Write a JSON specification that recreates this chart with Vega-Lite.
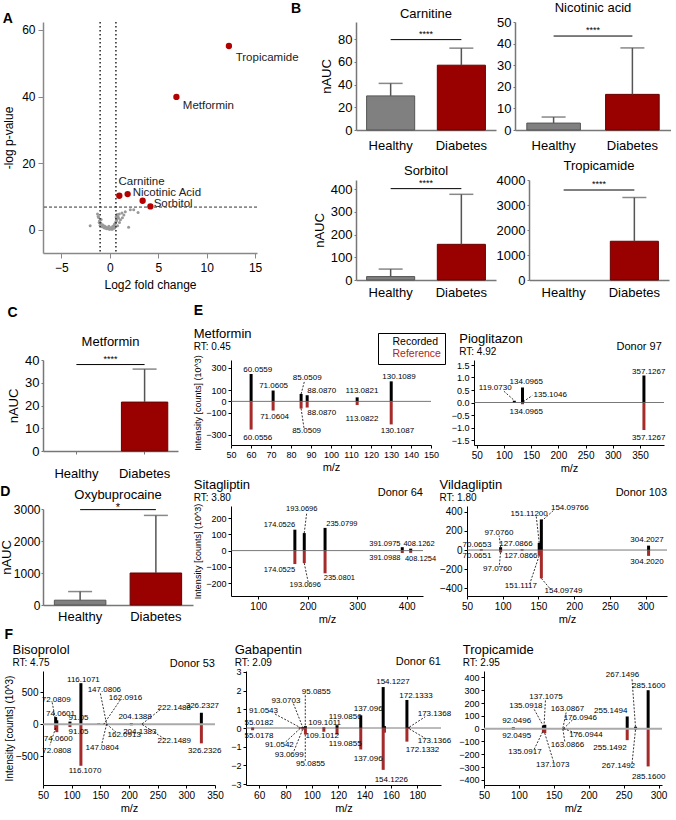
{
"$schema":"https://vega.github.io/schema/vega-lite/v6.json",
"padding":{"left":0,"top":2,"right":0,"bottom":0},
"background":"white",
"config":{
"font":"Liberation Sans",
"view":{"stroke":null},
"axis":{"grid":false,"domainColor":"#000","tickColor":"#000","labelColor":"#000","titleColor":"#000","labelFontSize":10,"titleFontSize":10,"titleFontWeight":"normal","tickSize":3,"labelPadding":2,"titlePadding":3,"labelOverlap":false,"labelFlush":false},
"title":{"fontSize":13,"fontWeight":"normal","anchor":"start","subtitleFontSize":10,"subtitlePadding":1,"offset":3,"color":"#000","subtitleColor":"#000"}
},
"datasets":{
"volcano":[
{"fc":-1.27,"lp":4.7,"sig":0},{"fc":-1.16,"lp":3.7,"sig":0},{"fc":-1.06,"lp":2.7,"sig":0},{"fc":-0.93,"lp":2.0,"sig":0},{"fc":-0.75,"lp":1.5,"sig":0},{"fc":-0.55,"lp":1.1,"sig":0},{"fc":-0.41,"lp":0.8,"sig":0},{"fc":-0.2,"lp":0.5,"sig":0},{"fc":0.04,"lp":0.2,"sig":0},{"fc":0.2,"lp":0.2,"sig":0},{"fc":0.38,"lp":0.4,"sig":0},{"fc":0.55,"lp":0.9,"sig":0},{"fc":0.49,"lp":1.7,"sig":0},{"fc":0.63,"lp":2.4,"sig":0},{"fc":0.73,"lp":3.2,"sig":0},{"fc":0.84,"lp":4.0,"sig":0},{"fc":0.98,"lp":4.7,"sig":0},{"fc":1.25,"lp":5.0,"sig":0},{"fc":1.6,"lp":5.4,"sig":0},{"fc":2.12,"lp":6.0,"sig":0},{"fc":2.47,"lp":6.0,"sig":0},{"fc":2.92,"lp":5.2,"sig":0},{"fc":1.94,"lp":0.7,"sig":0},{"fc":-2.03,"lp":1.2,"sig":0},{"fc":-0.6,"lp":0.6,"sig":0},{"fc":-0.3,"lp":0.3,"sig":0},{"fc":0.1,"lp":0.6,"sig":0},{"fc":0.3,"lp":1.0,"sig":0},{"fc":-0.8,"lp":0.9,"sig":0},{"fc":0.6,"lp":2.0,"sig":0},{"fc":0.7,"lp":2.8,"sig":0},{"fc":0.9,"lp":3.5,"sig":0},{"fc":0.5,"lp":0.5,"sig":0},{"fc":-0.1,"lp":1.0,"sig":0},{"fc":0.25,"lp":0.1,"sig":0},{"fc":-1.0,"lp":1.3,"sig":0},{"fc":0.8,"lp":1.2,"sig":0},{"fc":1.1,"lp":3.0,"sig":0},{"fc":1.3,"lp":3.6,"sig":0},{"fc":0.65,"lp":3.8,"sig":0},{"fc":-1.1,"lp":2.2,"sig":0},{"fc":-0.9,"lp":3.1,"sig":0},{"fc":0.45,"lp":1.3,"sig":0},{"fc":1.0,"lp":2.2,"sig":0},{"fc":-0.05,"lp":0.1,"sig":0},{"fc":0.15,"lp":0.35,"sig":0},{"fc":-0.45,"lp":0.4,"sig":0},{"fc":1.45,"lp":4.4,"sig":0},{"fc":0.75,"lp":4.6,"sig":0},{"fc":-1.2,"lp":4.0,"sig":0},
{"fc":12.3,"lp":55.2,"sig":1},{"fc":6.88,"lp":39.9,"sig":1},{"fc":0.98,"lp":10.2,"sig":1},{"fc":1.84,"lp":10.7,"sig":1},{"fc":3.39,"lp":8.7,"sig":1},{"fc":4.19,"lp":7.0,"sig":1}
],
"volcanoLabels":[
{"s":"Tropicamide","x":13.0,"y":51.6},{"s":"Metformin","x":7.54,"y":37.2},{"s":"Carnitine","x":0.9,"y":14.4},{"s":"Nicotinic Acid","x":2.36,"y":11.1},{"s":"Sorbitol","x":4.53,"y":7.8}
],
"vlines":[{"fc":-1},{"fc":0.63}],
"hlines":[{"lp":6.8}],
"bars":[
{"p":"Carnitine","g":"Healthy","m":30,"e":41},{"p":"Carnitine","g":"Diabetes","m":57,"e":72},
{"p":"Nicotinic acid","g":"Healthy","m":3.2,"e":6},{"p":"Nicotinic acid","g":"Diabetes","m":16.5,"e":38},
{"p":"Sorbitol","g":"Healthy","m":15,"e":48},{"p":"Sorbitol","g":"Diabetes","m":157,"e":377},
{"p":"Tropicamide","g":"Healthy","m":0,"e":0},{"p":"Tropicamide","g":"Diabetes","m":1550,"e":3300},
{"p":"Metformin","g":"Healthy","m":0,"e":0},{"p":"Metformin","g":"Diabetes","m":21.5,"e":36},
{"p":"Oxybuprocaine","g":"Healthy","m":150,"e":420},{"p":"Oxybuprocaine","g":"Diabetes","m":1000,"e":2800}
],
"sig":[
{"p":"Carnitine","y":79.5,"s":"****"},{"p":"Nicotinic acid","y":43.5,"s":"****"},{"p":"Sorbitol","y":402,"s":"****"},{"p":"Tropicamide","y":3600,"s":"****"},{"p":"Metformin","y":38,"s":"****"},{"p":"Oxybuprocaine","y":2980,"s":"*"}
],
"peaks":[
{"p":"E1","mz":60.0559,"v":245,"t":"Recorded"},{"p":"E1","mz":71.0605,"v":97,"t":"Recorded"},{"p":"E1","mz":85.0509,"v":66,"t":"Recorded"},{"p":"E1","mz":88.087,"v":55,"t":"Recorded"},{"p":"E1","mz":113.0821,"v":36,"t":"Recorded"},{"p":"E1","mz":130.1089,"v":179,"t":"Recorded"},
{"p":"E1","mz":60.0556,"v":-252,"t":"Reference"},{"p":"E1","mz":71.0604,"v":-82,"t":"Reference"},{"p":"E1","mz":85.0509,"v":-64,"t":"Reference"},{"p":"E1","mz":88.087,"v":-55,"t":"Reference"},{"p":"E1","mz":113.0822,"v":-33,"t":"Reference"},{"p":"E1","mz":130.1087,"v":-206,"t":"Reference"},
{"p":"E2","mz":119.073,"v":0.07,"t":"Recorded"},{"p":"E2","mz":134.0965,"v":0.6,"t":"Recorded"},{"p":"E2","mz":135.1046,"v":0.03,"t":"Recorded"},{"p":"E2","mz":357.1267,"v":1.08,"t":"Recorded"},
{"p":"E2","mz":134.0965,"v":-0.07,"t":"Reference"},{"p":"E2","mz":357.1267,"v":-1.1,"t":"Reference"},
{"p":"E3","mz":174.0526,"v":129,"t":"Recorded"},{"p":"E3","mz":193.0696,"v":108,"t":"Recorded"},{"p":"E3","mz":235.0799,"v":140,"t":"Recorded"},{"p":"E3","mz":391.0975,"v":21,"t":"Recorded"},{"p":"E3","mz":408.1262,"v":12,"t":"Recorded"},
{"p":"E3","mz":174.0525,"v":-83,"t":"Reference"},{"p":"E3","mz":193.0696,"v":-77,"t":"Reference"},{"p":"E3","mz":235.0801,"v":-140,"t":"Reference"},{"p":"E3","mz":391.0988,"v":-15,"t":"Reference"},{"p":"E3","mz":408.1254,"v":-14,"t":"Reference"},
{"p":"E4","mz":70.0653,"v":6,"t":"Recorded"},{"p":"E4","mz":97.076,"v":30,"t":"Recorded"},{"p":"E4","mz":127.0866,"v":6,"t":"Recorded"},{"p":"E4","mz":151.112,"v":75,"t":"Recorded"},{"p":"E4","mz":154.09766,"v":320,"t":"Recorded"},{"p":"E4","mz":304.2027,"v":46,"t":"Recorded"},
{"p":"E4","mz":70.0651,"v":-6,"t":"Reference"},{"p":"E4","mz":97.076,"v":-25,"t":"Reference"},{"p":"E4","mz":127.0866,"v":-6,"t":"Reference"},{"p":"E4","mz":151.1117,"v":-60,"t":"Reference"},{"p":"E4","mz":154.09749,"v":-296,"t":"Reference"},{"p":"E4","mz":304.202,"v":-61,"t":"Reference"},
{"p":"F1","mz":72.0809,"v":110,"t":"Recorded"},{"p":"F1","mz":74.0601,"v":60,"t":"Recorded"},{"p":"F1","mz":97.0,"v":40,"t":"Recorded"},{"p":"F1","mz":116.1071,"v":640,"t":"Recorded"},{"p":"F1","mz":147.0806,"v":12,"t":"Recorded"},{"p":"F1","mz":162.0916,"v":5,"t":"Recorded"},{"p":"F1","mz":204.1388,"v":18,"t":"Recorded"},{"p":"F1","mz":222.1488,"v":6,"t":"Recorded"},{"p":"F1","mz":326.2327,"v":178,"t":"Recorded"},
{"p":"F1","mz":72.0808,"v":-90,"t":"Reference"},{"p":"F1","mz":74.06,"v":-125,"t":"Reference"},{"p":"F1","mz":97.0,"v":-45,"t":"Reference"},{"p":"F1","mz":116.107,"v":-650,"t":"Reference"},{"p":"F1","mz":147.0804,"v":-12,"t":"Reference"},{"p":"F1","mz":162.0913,"v":-5,"t":"Reference"},{"p":"F1","mz":204.1383,"v":-18,"t":"Reference"},{"p":"F1","mz":222.1489,"v":-6,"t":"Reference"},{"p":"F1","mz":326.2326,"v":-300,"t":"Reference"},
{"p":"F2","mz":55.0182,"v":0.02,"t":"Recorded"},{"p":"F2","mz":91.0543,"v":0.03,"t":"Recorded"},{"p":"F2","mz":93.0703,"v":0.05,"t":"Recorded"},{"p":"F2","mz":95.0855,"v":0.1,"t":"Recorded"},{"p":"F2","mz":109.1011,"v":0.03,"t":"Recorded"},{"p":"F2","mz":119.0856,"v":0.15,"t":"Recorded"},{"p":"F2","mz":137.096,"v":0.68,"t":"Recorded"},{"p":"F2","mz":154.1227,"v":2.19,"t":"Recorded"},{"p":"F2","mz":155.1,"v":0.1,"t":"Recorded"},{"p":"F2","mz":172.1333,"v":1.5,"t":"Recorded"},{"p":"F2","mz":173.1368,"v":0.05,"t":"Recorded"},
{"p":"F2","mz":55.0178,"v":-0.12,"t":"Reference"},{"p":"F2","mz":91.0542,"v":-0.03,"t":"Reference"},{"p":"F2","mz":93.0699,"v":-0.08,"t":"Reference"},{"p":"F2","mz":95.0855,"v":-0.35,"t":"Reference"},{"p":"F2","mz":109.1012,"v":-0.2,"t":"Reference"},{"p":"F2","mz":119.0855,"v":-0.35,"t":"Reference"},{"p":"F2","mz":137.096,"v":-1.15,"t":"Reference"},{"p":"F2","mz":154.1226,"v":-2.24,"t":"Reference"},{"p":"F2","mz":155.1,"v":-0.25,"t":"Reference"},{"p":"F2","mz":172.1332,"v":-0.73,"t":"Reference"},{"p":"F2","mz":173.1366,"v":-0.05,"t":"Reference"},
{"p":"F3","mz":92.0496,"v":10,"t":"Recorded"},{"p":"F3","mz":135.0918,"v":25,"t":"Recorded"},{"p":"F3","mz":137.1075,"v":30,"t":"Recorded"},{"p":"F3","mz":163.0867,"v":3,"t":"Recorded"},{"p":"F3","mz":176.0946,"v":3,"t":"Recorded"},{"p":"F3","mz":255.1494,"v":95,"t":"Recorded"},{"p":"F3","mz":267.1496,"v":15,"t":"Recorded"},{"p":"F3","mz":285.16,"v":300,"t":"Recorded"},
{"p":"F3","mz":92.0495,"v":-10,"t":"Reference"},{"p":"F3","mz":135.0917,"v":-30,"t":"Reference"},{"p":"F3","mz":137.1073,"v":-35,"t":"Reference"},{"p":"F3","mz":163.0866,"v":-3,"t":"Reference"},{"p":"F3","mz":176.0944,"v":-3,"t":"Reference"},{"p":"F3","mz":255.1492,"v":-90,"t":"Reference"},{"p":"F3","mz":267.1492,"v":-10,"t":"Reference"},{"p":"F3","mz":285.16,"v":-295,"t":"Reference"}
],
"labels":[
{"p":"E1","s":"60.0559","x":63.4,"y":285},{"p":"E1","s":"71.0605","x":71.3,"y":134},{"p":"E1","s":"85.0509","x":88.1,"y":212},{"p":"E1","s":"88.0870","x":95.4,"y":91},{"p":"E1","s":"113.0821","x":115.5,"y":97},{"p":"E1","s":"130.1089","x":134,"y":218},{"p":"E1","s":"71.0604","x":71.8,"y":-139},{"p":"E1","s":"88.0870","x":95.4,"y":-106},{"p":"E1","s":"85.0509","x":87.8,"y":-261},{"p":"E1","s":"113.0822","x":115.5,"y":-155},{"p":"E1","s":"60.0556","x":63.4,"y":-327},{"p":"E1","s":"130.1087","x":133.2,"y":-261},
{"p":"E2","s":"134.0965","x":141,"y":0.84},{"p":"E2","s":"119.0730","x":84,"y":0.58},{"p":"E2","s":"135.1046","x":185,"y":0.3},{"p":"E2","s":"134.0965","x":141,"y":-0.39},{"p":"E2","s":"357.1267","x":366,"y":1.22},{"p":"E2","s":"357.1267","x":366,"y":-1.4},
{"p":"E3","s":"174.0526","x":143,"y":156},{"p":"E3","s":"193.0696","x":188,"y":255},{"p":"E3","s":"235.0799","x":269,"y":162},{"p":"E3","s":"391.0975","x":356,"y":42},{"p":"E3","s":"408.1262","x":425,"y":42},{"p":"E3","s":"391.0988","x":356,"y":-46},{"p":"E3","s":"408.1254","x":428,"y":-52},{"p":"E3","s":"174.0525","x":143,"y":-121},{"p":"E3","s":"193.0696","x":195,"y":-214},{"p":"E3","s":"235.0801","x":264,"y":-167},
{"p":"E4","s":"154.09766","x":194,"y":440},{"p":"E4","s":"151.11200","x":137,"y":372},{"p":"E4","s":"97.0760","x":94.7,"y":178},{"p":"E4","s":"70.0653","x":64,"y":53},{"p":"E4","s":"127.0866","x":118.6,"y":61},{"p":"E4","s":"304.2027","x":302,"y":107},{"p":"E4","s":"70.0651","x":64,"y":-64},{"p":"E4","s":"127.0866","x":125.4,"y":-64},{"p":"E4","s":"97.0760","x":92.8,"y":-203},{"p":"E4","s":"151.1117","x":125.4,"y":-374},{"p":"E4","s":"154.09749","x":185,"y":-428},{"p":"E4","s":"304.2020","x":302,"y":-125},
{"p":"F1","s":"116.1071","x":120.5,"y":688},{"p":"F1","s":"147.0806","x":157,"y":539},{"p":"F1","s":"162.0916","x":194,"y":416},{"p":"F1","s":"72.0809","x":73,"y":376},{"p":"F1","s":"74.0601","x":80.6,"y":159},{"p":"F1","s":"91.05","x":112,"y":94},{"p":"F1","s":"204.1388","x":210.6,"y":108},{"p":"F1","s":"222.1488","x":279,"y":257},{"p":"F1","s":"326.2327","x":328,"y":290},{"p":"F1","s":"91.05","x":112,"y":-119},{"p":"F1","s":"74.0600","x":76.7,"y":-238},{"p":"F1","s":"72.0808","x":74,"y":-426},{"p":"F1","s":"162.0913","x":191.6,"y":-163},{"p":"F1","s":"204.1383","x":218.9,"y":-129},{"p":"F1","s":"222.1489","x":279,"y":-267},{"p":"F1","s":"147.0804","x":153.3,"y":-376},{"p":"F1","s":"116.1070","x":123.3,"y":-733},{"p":"F1","s":"326.2326","x":332,"y":-420},
{"p":"F2","s":"55.0182","x":59.8,"y":0.26},{"p":"F2","s":"55.0178","x":59.8,"y":-0.43},{"p":"F2","s":"91.0543","x":63.3,"y":0.89},{"p":"F2","s":"93.0703","x":80.3,"y":1.44},{"p":"F2","s":"95.0855","x":103.3,"y":1.91},{"p":"F2","s":"109.1011","x":109.7,"y":0.26},{"p":"F2","s":"119.0856","x":125.3,"y":0.61},{"p":"F2","s":"137.096","x":142.7,"y":1.0},{"p":"F2","s":"154.1227","x":161.5,"y":2.48},{"p":"F2","s":"172.1333","x":179,"y":1.7},{"p":"F2","s":"173.1368","x":193,"y":0.75},{"p":"F2","s":"91.0542","x":75.3,"y":-0.9},{"p":"F2","s":"93.0699","x":82.8,"y":-1.42},{"p":"F2","s":"95.0855","x":99,"y":-1.91},{"p":"F2","s":"109.1012","x":107.8,"y":-0.43},{"p":"F2","s":"119.0855","x":125.3,"y":-0.85},{"p":"F2","s":"137.096","x":142.7,"y":-1.68},{"p":"F2","s":"154.1226","x":160.3,"y":-2.76},{"p":"F2","s":"172.1332","x":184,"y":-1.16},{"p":"F2","s":"173.1366","x":193,"y":-0.68},
{"p":"F3","s":"92.0496","x":96.8,"y":61},{"p":"F3","s":"92.0495","x":96.8,"y":-58},{"p":"F3","s":"137.1075","x":138.7,"y":248},{"p":"F3","s":"135.0918","x":110,"y":174},{"p":"F3","s":"163.0867","x":169.6,"y":153},{"p":"F3","s":"176.0946","x":188,"y":82},{"p":"F3","s":"255.1494","x":231.5,"y":135},{"p":"F3","s":"267.1496","x":248.3,"y":415},{"p":"F3","s":"285.1600","x":286,"y":333},{"p":"F3","s":"176.0944","x":196,"y":-50},{"p":"F3","s":"135.0917","x":108.7,"y":-182},{"p":"F3","s":"163.0866","x":169.6,"y":-129},{"p":"F3","s":"137.1073","x":148.4,"y":-283},{"p":"F3","s":"255.1492","x":230.5,"y":-148},{"p":"F3","s":"267.1492","x":242.5,"y":-293},{"p":"F3","s":"285.1600","x":286,"y":-380}
],
"leaders":[
{"p":"E1","x":85.05,"y":66,"x2":86.8,"y2":185},{"p":"E1","x":85.05,"y":-64,"x2":86.5,"y2":-240},
{"p":"E2","x":100,"y":0.45,"x2":119,"y2":0.08},{"p":"E2","x":135.5,"y":0.03,"x2":152,"y2":0.28},
{"p":"E3","x":193,"y":108,"x2":198,"y2":232},{"p":"E3","x":193,"y":-77,"x2":201,"y2":-195},
{"p":"E4","x":151.1,"y":75,"x2":147,"y2":350},{"p":"E4","x":154.1,"y":300,"x2":172,"y2":420},{"p":"E4","x":97,"y":30,"x2":95,"y2":150},{"p":"E4","x":97,"y":-25,"x2":95,"y2":-180},{"p":"E4","x":151,"y":-60,"x2":138,"y2":-350},{"p":"E4","x":154.1,"y":-296,"x2":167,"y2":-410},
{"p":"F1","x":66,"y":340,"x2":72,"y2":60},{"p":"F1","x":150,"y":480,"x2":161,"y2":0},{"p":"F1","x":185,"y":380,"x2":156,"y2":0},{"p":"F1","x":161,"y":0,"x2":178,"y2":-130},{"p":"F1","x":161,"y":0,"x2":152,"y2":-330},{"p":"F1","x":223,"y":5,"x2":255,"y2":230},{"p":"F1","x":223,"y":-5,"x2":262,"y2":-230},{"p":"F1","x":72,"y":-60,"x2":62,"y2":-330},
{"p":"F2","x":72,"y":0.75,"x2":91,"y2":0.03},{"p":"F2","x":86,"y":1.3,"x2":93,"y2":0.05},{"p":"F2","x":95,"y":1.75,"x2":95,"y2":0.1},{"p":"F2","x":91,"y":-0.03,"x2":80,"y2":-0.75},{"p":"F2","x":93,"y":-0.08,"x2":86,"y2":-1.3},{"p":"F2","x":95,"y":-0.35,"x2":95,"y2":-1.75},{"p":"F2","x":174,"y":0.05,"x2":186,"y2":0.6},{"p":"F2","x":174,"y":-0.05,"x2":186,"y2":-0.55},
{"p":"F3","x":122,"y":150,"x2":134,"y2":30},{"p":"F3","x":138,"y":220,"x2":136,"y2":20},{"p":"F3","x":163,"y":3,"x2":168,"y2":135},{"p":"F3","x":164,"y":0,"x2":178,"y2":75},{"p":"F3","x":164,"y":0,"x2":184,"y2":-40},{"p":"F3","x":134,"y":-25,"x2":122,"y2":-160},{"p":"F3","x":137,"y":-35,"x2":150,"y2":-265},{"p":"F3","x":163,"y":-3,"x2":166,"y2":-110},{"p":"F3","x":267,"y":15,"x2":262,"y2":390},{"p":"F3","x":267,"y":-10,"x2":262,"y2":-275}
],
"donors":[
{"p":"E2","s":"Donor 97"},{"p":"E3","s":"Donor 64"},{"p":"E4","s":"Donor 103"},{"p":"F1","s":"Donor 53"},{"p":"F2","s":"Donor 61"}
]
},
"spacing":4,
"vconcat":[
{"hconcat":[
{"vconcat":[{
"title":{"text":"A","fontSize":14,"fontWeight":"bold","anchor":"start","frame":"bounds","offset":-5},
"width":214,"height":231,
"layer":[
{"data":{"name":"volcano"},"transform":[{"filter":"datum.sig==0"}],"mark":{"type":"circle","size":9,"color":"#999","opacity":1},
"encoding":{"x":{"field":"fc","type":"quantitative","scale":{"domain":[-6.9,15.2],"nice":false,"zero":false},"axis":{"title":"Log2 fold change","values":[-5,0,5,10,15],"format":"d","tickCount":40,"labelOverlap":false,"labelFontSize":12,"titleFontSize":12,"domainColor":"#888","domainWidth":1.5,"tickColor":"#888","tickSize":5,"labelPadding":4,"titlePadding":6}},
"y":{"field":"lp","type":"quantitative","scale":{"domain":[-7,62.4],"nice":false,"zero":false},"axis":{"title":"-log p-value","values":[0,20,40,60],"format":"d","tickCount":40,"labelOverlap":false,"labelFontSize":12,"titleFontSize":12,"domainColor":"#888","domainWidth":1.5,"tickColor":"#888","tickSize":5,"labelPadding":3,"titlePadding":6}}}},
{"data":{"name":"vlines"},"mark":{"type":"rule","strokeDash":[1.5,2.5],"strokeWidth":1.6,"color":"#333"},"encoding":{"x":{"field":"fc","type":"quantitative"}}},
{"data":{"name":"hlines"},"mark":{"type":"rule","strokeDash":[3,2],"strokeWidth":1,"color":"#333"},"encoding":{"y":{"field":"lp","type":"quantitative"}}},
{"data":{"name":"volcano"},"transform":[{"filter":"datum.sig==1"}],"mark":{"type":"circle","size":40,"color":"#b30000","opacity":1},"encoding":{"x":{"field":"fc","type":"quantitative"},"y":{"field":"lp","type":"quantitative"}}},
{"data":{"name":"volcanoLabels"},"mark":{"type":"text","align":"left","fontSize":11.5,"color":"#222"},"encoding":{"x":{"field":"x","type":"quantitative"},"y":{"field":"y","type":"quantitative"},"text":{"field":"s"}}}
]}]},
{"title":{"text":"B","fontSize":14,"fontWeight":"bold","orient":"left","anchor":"end","angle":0,"align":"right","baseline":"top","offset":2},
"spacing":8,
"vconcat":[
{"spacing":0,"hconcat":[
{"width":140,"height":108,"title":{"text":"Carnitine","anchor":"middle","fontSize":13,"offset":1},
"layer":[
{"data":{"name":"bars"},"transform":[{"filter":"datum.p=='Carnitine'"}],"mark":{"type":"bar","strokeWidth":1},
"encoding":{"x":{"field":"g","type":"nominal","sort":["Healthy","Diabetes"],"scale":{"domain":["Healthy","Diabetes"],"paddingInner":0.32,"paddingOuter":0.15},"axis":{"title":null,"labelAngle":0,"labelFontSize":13,"ticks":false,"labelPadding":9,"domainColor":"#777","domainWidth":1.5}},
"y":{"field":"m","type":"quantitative","scale":{"domain":[0,95],"nice":false},"axis":{"title":"nAUC","values":[0,20,40,60,80],"tickCount":40,"labelOverlap":false,"labelFontSize":13,"titleFontSize":13,"domainColor":"#777","domainWidth":1.5,"tickColor":"#777","tickSize":2,"titlePadding":4}},
"fill":{"field":"g","type":"nominal","scale":{"domain":["Healthy","Diabetes"],"range":["#808080","#990000"]},"legend":null},
"stroke":{"field":"g","type":"nominal","scale":{"domain":["Healthy","Diabetes"],"range":["#555555","#660000"]},"legend":null}}},
{"data":{"name":"bars"},"transform":[{"filter":"datum.p=='Carnitine' && datum.m>0"}],"mark":{"type":"rule","color":"#555","strokeWidth":1.5},"encoding":{"x":{"field":"g","type":"nominal"},"y":{"field":"e","type":"quantitative"},"y2":{"field":"m"}}},
{"data":{"name":"bars"},"transform":[{"filter":"datum.p=='Carnitine' && datum.m>0"}],"mark":{"type":"tick","color":"#555","thickness":1.5,"size":24},"encoding":{"x":{"field":"g","type":"nominal"},"y":{"field":"e","type":"quantitative"}}},
{"data":{"name":"sig"},"transform":[{"filter":"datum.p=='Carnitine'"}],"mark":{"type":"rule","color":"#000","strokeWidth":1},"encoding":{"x":{"datum":"Healthy"},"x2":{"datum":"Diabetes"},"y":{"field":"y","type":"quantitative"}}},
{"data":{"name":"sig"},"transform":[{"filter":"datum.p=='Carnitine'"}],"mark":{"type":"text","fontSize":9,"baseline":"bottom","dy":-1},"encoding":{"x":{"datum":"Healthy","bandPosition":1.235},"y":{"field":"y","type":"quantitative"},"text":{"field":"s"}}}
]},
{"width":156,"height":108,"title":{"text":"Nicotinic acid","anchor":"middle","fontSize":13,"offset":1},
"layer":[
{"data":{"name":"bars"},"transform":[{"filter":"datum.p=='Nicotinic acid'"}],"mark":{"type":"bar","strokeWidth":1},
"encoding":{"x":{"field":"g","type":"nominal","sort":["Healthy","Diabetes"],"scale":{"domain":["Healthy","Diabetes"],"paddingInner":0.32,"paddingOuter":0.15},"axis":{"title":null,"labelAngle":0,"labelFontSize":13,"ticks":false,"labelPadding":9,"domainColor":"#777","domainWidth":1.5}},
"y":{"field":"m","type":"quantitative","scale":{"domain":[0,50],"nice":false},"axis":{"title":null,"values":[0,10,20,30,40,50],"tickCount":40,"labelOverlap":false,"labelFontSize":13,"domainColor":"#777","domainWidth":1.5,"tickColor":"#777","tickSize":2}},
"fill":{"field":"g","type":"nominal","scale":{"domain":["Healthy","Diabetes"],"range":["#808080","#990000"]},"legend":null},
"stroke":{"field":"g","type":"nominal","scale":{"domain":["Healthy","Diabetes"],"range":["#555555","#660000"]},"legend":null}}},
{"data":{"name":"bars"},"transform":[{"filter":"datum.p=='Nicotinic acid' && datum.m>0"}],"mark":{"type":"rule","color":"#555","strokeWidth":1.5},"encoding":{"x":{"field":"g","type":"nominal"},"y":{"field":"e","type":"quantitative"},"y2":{"field":"m"}}},
{"data":{"name":"bars"},"transform":[{"filter":"datum.p=='Nicotinic acid' && datum.m>0"}],"mark":{"type":"tick","color":"#555","thickness":1.5,"size":24},"encoding":{"x":{"field":"g","type":"nominal"},"y":{"field":"e","type":"quantitative"}}},
{"data":{"name":"sig"},"transform":[{"filter":"datum.p=='Nicotinic acid'"}],"mark":{"type":"rule","color":"#000","strokeWidth":1},"encoding":{"x":{"datum":"Healthy"},"x2":{"datum":"Diabetes"},"y":{"field":"y","type":"quantitative"}}},
{"data":{"name":"sig"},"transform":[{"filter":"datum.p=='Nicotinic acid'"}],"mark":{"type":"text","fontSize":9,"baseline":"bottom","dy":-1},"encoding":{"x":{"datum":"Healthy","bandPosition":1.235},"y":{"field":"y","type":"quantitative"},"text":{"field":"s"}}}
]}
]},
{"spacing":0,"hconcat":[
{"width":140,"height":100,"title":{"text":"Sorbitol","anchor":"middle","fontSize":13,"offset":1},
"layer":[
{"data":{"name":"bars"},"transform":[{"filter":"datum.p=='Sorbitol'"}],"mark":{"type":"bar","strokeWidth":1},
"encoding":{"x":{"field":"g","type":"nominal","sort":["Healthy","Diabetes"],"scale":{"domain":["Healthy","Diabetes"],"paddingInner":0.32,"paddingOuter":0.15},"axis":{"title":null,"labelAngle":0,"labelFontSize":13,"ticks":false,"labelPadding":6,"domainColor":"#777","domainWidth":1.5}},
"y":{"field":"m","type":"quantitative","scale":{"domain":[0,440],"nice":false},"axis":{"title":"nAUC","values":[0,100,200,300,400],"tickCount":40,"labelOverlap":false,"labelFontSize":13,"titleFontSize":13,"domainColor":"#777","domainWidth":1.5,"tickColor":"#777","tickSize":2,"titlePadding":4}},
"fill":{"field":"g","type":"nominal","scale":{"domain":["Healthy","Diabetes"],"range":["#808080","#990000"]},"legend":null},
"stroke":{"field":"g","type":"nominal","scale":{"domain":["Healthy","Diabetes"],"range":["#555555","#660000"]},"legend":null}}},
{"data":{"name":"bars"},"transform":[{"filter":"datum.p=='Sorbitol' && datum.m>0"}],"mark":{"type":"rule","color":"#555","strokeWidth":1.5},"encoding":{"x":{"field":"g","type":"nominal"},"y":{"field":"e","type":"quantitative"},"y2":{"field":"m"}}},
{"data":{"name":"bars"},"transform":[{"filter":"datum.p=='Sorbitol' && datum.m>0"}],"mark":{"type":"tick","color":"#555","thickness":1.5,"size":24},"encoding":{"x":{"field":"g","type":"nominal"},"y":{"field":"e","type":"quantitative"}}},
{"data":{"name":"sig"},"transform":[{"filter":"datum.p=='Sorbitol'"}],"mark":{"type":"rule","color":"#000","strokeWidth":1},"encoding":{"x":{"datum":"Healthy"},"x2":{"datum":"Diabetes"},"y":{"field":"y","type":"quantitative"}}},
{"data":{"name":"sig"},"transform":[{"filter":"datum.p=='Sorbitol'"}],"mark":{"type":"text","fontSize":9,"baseline":"bottom","dy":-1},"encoding":{"x":{"datum":"Healthy","bandPosition":1.235},"y":{"field":"y","type":"quantitative"},"text":{"field":"s"}}}
]},
{"width":140,"height":100,"title":{"text":"Tropicamide","anchor":"middle","fontSize":13,"offset":1},
"layer":[
{"data":{"name":"bars"},"transform":[{"filter":"datum.p=='Tropicamide' && datum.m>0"}],"mark":{"type":"bar","strokeWidth":1},
"encoding":{"x":{"field":"g","type":"nominal","sort":["Healthy","Diabetes"],"scale":{"domain":["Healthy","Diabetes"],"paddingInner":0.32,"paddingOuter":0.15},"axis":{"title":null,"labelAngle":0,"labelFontSize":13,"ticks":false,"labelPadding":6,"domainColor":"#777","domainWidth":1.5}},
"y":{"field":"m","type":"quantitative","scale":{"domain":[0,4000],"nice":false},"axis":{"title":null,"values":[0,1000,2000,3000,4000],"tickCount":40,"format":"d","labelOverlap":false,"labelFontSize":13,"domainColor":"#777","domainWidth":1.5,"tickColor":"#777","tickSize":2}},
"fill":{"field":"g","type":"nominal","scale":{"domain":["Healthy","Diabetes"],"range":["#808080","#990000"]},"legend":null},
"stroke":{"field":"g","type":"nominal","scale":{"domain":["Healthy","Diabetes"],"range":["#555555","#660000"]},"legend":null}}},
{"data":{"name":"bars"},"transform":[{"filter":"datum.p=='Tropicamide' && datum.m>0"}],"mark":{"type":"rule","color":"#555","strokeWidth":1.5},"encoding":{"x":{"field":"g","type":"nominal"},"y":{"field":"e","type":"quantitative"},"y2":{"field":"m"}}},
{"data":{"name":"bars"},"transform":[{"filter":"datum.p=='Tropicamide' && datum.m>0"}],"mark":{"type":"tick","color":"#555","thickness":1.5,"size":24},"encoding":{"x":{"field":"g","type":"nominal"},"y":{"field":"e","type":"quantitative"}}},
{"data":{"name":"sig"},"transform":[{"filter":"datum.p=='Tropicamide'"}],"mark":{"type":"rule","color":"#000","strokeWidth":1},"encoding":{"x":{"datum":"Healthy"},"x2":{"datum":"Diabetes"},"y":{"field":"y","type":"quantitative"}}},
{"data":{"name":"sig"},"transform":[{"filter":"datum.p=='Tropicamide'"}],"mark":{"type":"text","fontSize":9,"baseline":"bottom","dy":-1},"encoding":{"x":{"datum":"Healthy","bandPosition":1.235},"y":{"field":"y","type":"quantitative"},"text":{"field":"s"}}}
]}
]}
]}
],"spacing":-8},
{"hconcat":[
{"spacing":4,"vconcat":[
{"title":{"text":"C","fontSize":14,"fontWeight":"bold","anchor":"start","frame":"bounds","offset":16},
"vconcat":[
{"width":135,"height":91,"title":{"text":"Metformin","anchor":"middle","fontSize":13,"offset":5},
"layer":[
{"data":{"name":"bars"},"transform":[{"filter":"datum.p=='Metformin' && datum.m>0"}],"mark":{"type":"bar","strokeWidth":1},
"encoding":{"x":{"field":"g","type":"nominal","sort":["Healthy","Diabetes"],"scale":{"domain":["Healthy","Diabetes"],"paddingInner":0.32,"paddingOuter":0.15},"axis":{"title":null,"labelAngle":0,"labelFontSize":13,"ticks":true,"tickSize":3,"tickColor":"#777","labelPadding":13,"domainColor":"#777","domainWidth":1.5}},
"y":{"field":"m","type":"quantitative","scale":{"domain":[0,40],"nice":false},"axis":{"title":"nAUC","values":[0,10,20,30,40],"tickCount":40,"labelOverlap":false,"labelFontSize":13,"titleFontSize":13,"domainColor":"#777","domainWidth":1.5,"tickColor":"#777","tickSize":2,"titlePadding":4}},
"fill":{"field":"g","type":"nominal","scale":{"domain":["Healthy","Diabetes"],"range":["#808080","#990000"]},"legend":null},
"stroke":{"field":"g","type":"nominal","scale":{"domain":["Healthy","Diabetes"],"range":["#555555","#660000"]},"legend":null}}},
{"data":{"name":"bars"},"transform":[{"filter":"datum.p=='Metformin' && datum.m>0"}],"mark":{"type":"rule","color":"#555","strokeWidth":1.5},"encoding":{"x":{"field":"g","type":"nominal"},"y":{"field":"e","type":"quantitative"},"y2":{"field":"m"}}},
{"data":{"name":"bars"},"transform":[{"filter":"datum.p=='Metformin' && datum.m>0"}],"mark":{"type":"tick","color":"#555","thickness":1.5,"size":24},"encoding":{"x":{"field":"g","type":"nominal"},"y":{"field":"e","type":"quantitative"}}},
{"data":{"name":"sig"},"transform":[{"filter":"datum.p=='Metformin'"}],"mark":{"type":"rule","color":"#000","strokeWidth":1},"encoding":{"x":{"datum":"Healthy"},"x2":{"datum":"Diabetes"},"y":{"field":"y","type":"quantitative"}}},
{"data":{"name":"sig"},"transform":[{"filter":"datum.p=='Metformin'"}],"mark":{"type":"text","fontSize":9,"baseline":"bottom","dy":-1},"encoding":{"x":{"datum":"Healthy","bandPosition":1.235},"y":{"field":"y","type":"quantitative"},"text":{"field":"s"}}}
]}]},
{"title":{"text":"D","fontSize":14,"fontWeight":"bold","anchor":"start","frame":"bounds","offset":-10},
"vconcat":[
{"width":150,"height":96,"title":{"text":"Oxybuprocaine","anchor":"middle","fontSize":13,"offset":0},
"layer":[
{"data":{"name":"bars"},"transform":[{"filter":"datum.p=='Oxybuprocaine' && datum.m>0"}],"mark":{"type":"bar","strokeWidth":1},
"encoding":{"x":{"field":"g","type":"nominal","sort":["Healthy","Diabetes"],"scale":{"domain":["Healthy","Diabetes"],"paddingInner":0.32,"paddingOuter":0.15},"axis":{"title":null,"labelAngle":0,"labelFontSize":13,"ticks":false,"labelPadding":5,"domainColor":"#777","domainWidth":1.5}},
"y":{"field":"m","type":"quantitative","scale":{"domain":[0,3000],"nice":false},"axis":{"title":"nAUC","values":[0,1000,2000,3000],"tickCount":40,"format":"d","labelOverlap":false,"labelFontSize":12,"titleFontSize":13,"domainColor":"#777","domainWidth":1.5,"tickColor":"#777","tickSize":2,"titlePadding":0,"labelPadding":1}},
"fill":{"field":"g","type":"nominal","scale":{"domain":["Healthy","Diabetes"],"range":["#808080","#990000"]},"legend":null},
"stroke":{"field":"g","type":"nominal","scale":{"domain":["Healthy","Diabetes"],"range":["#555555","#660000"]},"legend":null}}},
{"data":{"name":"bars"},"transform":[{"filter":"datum.p=='Oxybuprocaine' && datum.m>0"}],"mark":{"type":"rule","color":"#555","strokeWidth":1.5},"encoding":{"x":{"field":"g","type":"nominal"},"y":{"field":"e","type":"quantitative"},"y2":{"field":"m"}}},
{"data":{"name":"bars"},"transform":[{"filter":"datum.p=='Oxybuprocaine' && datum.m>0"}],"mark":{"type":"tick","color":"#555","thickness":1.5,"size":24},"encoding":{"x":{"field":"g","type":"nominal"},"y":{"field":"e","type":"quantitative"}}},
{"data":{"name":"sig"},"transform":[{"filter":"datum.p=='Oxybuprocaine'"}],"mark":{"type":"rule","color":"#000","strokeWidth":1},"encoding":{"x":{"datum":"Healthy"},"x2":{"datum":"Diabetes"},"y":{"field":"y","type":"quantitative"}}},
{"data":{"name":"sig"},"transform":[{"filter":"datum.p=='Oxybuprocaine'"}],"mark":{"type":"text","fontSize":11,"baseline":"bottom","dy":3},"encoding":{"x":{"datum":"Healthy","bandPosition":1.235},"y":{"field":"y","type":"quantitative"},"text":{"field":"s"}}}
]}]}
]},
{"title":{"text":"E","fontSize":14,"fontWeight":"bold","anchor":"start","frame":"bounds","offset":10},
"spacing":6,
"vconcat":[
{"spacing":12,"hconcat":[
{"width":200,"height":85,"title":{"text":"Metformin","subtitle":"RT: 0.45"},
"layer":[
{"data":{"name":"peaks"},"transform":[{"filter":"datum.p=='E1'"}],"mark":{"type":"rule","strokeWidth":3},
"encoding":{"x":{"field":"mz","type":"quantitative","scale":{"domain":[50,150],"nice":false,"zero":false},"axis":{"title":"m/z","values":[50,60,70,80,90,100,110,120,130,140,150],"tickCount":40,"labelOverlap":false,"labelFlush":false,"labelFontSize":9,"titleFontSize":11,"titlePadding":2}},
"y":{"field":"v","type":"quantitative","scale":{"domain":[-390,370],"nice":false},"axis":{"title":"Intensity [counts] (10^3)","values":[-300,-100,0,100,300],"tickCount":40,"labelOverlap":false,"titleFontSize":9,"labelFontSize":9}},
"y2":{"datum":0},
"color":{"field":"t","type":"nominal","scale":{"domain":["Recorded","Reference"],"range":["#000000","#a52a2a"]},
"legend":{"orient":"none","legendX":335,"legendY":311,"title":null,"symbolSize":0,"symbolOpacity":0,"symbolStrokeWidth":0,"labelFontSize":10.5,"labelOffset":0,"strokeColor":"#000","padding":4,"rowPadding":1,"labelColor":{"expr":"datum.value == 'Reference' ? '#b22222' : '#000000'"}}}}},
{"data":{"values":[{}]},"mark":{"type":"rule","color":"#555","strokeWidth":0.8},"encoding":{"y":{"datum":0,"type":"quantitative"}}},
{"data":{"name":"leaders"},"transform":[{"filter":"datum.p=='E1'"}],"mark":{"type":"rule","strokeDash":[2,1.5],"strokeWidth":0.8,"color":"#000"},"encoding":{"x":{"field":"x","type":"quantitative"},"y":{"field":"y","type":"quantitative"},"x2":{"field":"x2"},"y2":{"field":"y2"}}},
{"data":{"name":"labels"},"transform":[{"filter":"datum.p=='E1'"}],"mark":{"type":"text","fontSize":8},"encoding":{"x":{"field":"x","type":"quantitative"},"y":{"field":"y","type":"quantitative"},"text":{"field":"s"}}}
]},
{"width":190,"height":85,"title":{"text":"Pioglitazon","subtitle":"RT: 4.92","dx":8,"offset":-16},
"layer":[
{"data":{"name":"peaks"},"transform":[{"filter":"datum.p=='E2'"}],"mark":{"type":"rule","strokeWidth":3},
"encoding":{"x":{"field":"mz","type":"quantitative","scale":{"domain":[45,394],"nice":false,"zero":false},"axis":{"title":"m/z","values":[50,100,150,200,250,300,350],"tickCount":40,"labelOverlap":false,"titleFontSize":11,"titlePadding":2}},
"y":{"field":"v","type":"quantitative","scale":{"domain":[-1.7,1.7],"nice":false},"axis":{"title":null,"values":[-1.5,-1,-0.5,0,0.5,1,1.5],"tickCount":40,"format":".1f","labelOverlap":false,"labelFontSize":9}},
"y2":{"datum":0},
"color":{"field":"t","type":"nominal","scale":{"domain":["Recorded","Reference"],"range":["#000000","#a52a2a"]},"legend":null}}},
{"data":{"values":[{}]},"mark":{"type":"rule","color":"#555","strokeWidth":0.8},"encoding":{"y":{"datum":0,"type":"quantitative"}}},
{"data":{"name":"leaders"},"transform":[{"filter":"datum.p=='E2'"}],"mark":{"type":"rule","strokeDash":[2,1.5],"strokeWidth":0.8,"color":"#000"},"encoding":{"x":{"field":"x","type":"quantitative"},"y":{"field":"y","type":"quantitative"},"x2":{"field":"x2"},"y2":{"field":"y2"}}},
{"data":{"name":"labels"},"transform":[{"filter":"datum.p=='E2'"}],"mark":{"type":"text","fontSize":8},"encoding":{"x":{"field":"x","type":"quantitative"},"y":{"field":"y","type":"quantitative"},"text":{"field":"s"}}},
{"data":{"name":"donors"},"transform":[{"filter":"datum.p=='E2'"}],"mark":{"type":"text","fontSize":11,"align":"right","baseline":"bottom","dy":-8},"encoding":{"x":{"datum":390},"y":{"datum":1.7},"text":{"field":"s"}}}
]}
]},
{"spacing":2,"hconcat":[
{"width":192,"height":90,"title":{"text":"Sitagliptin","subtitle":"RT: 3.80","offset":-16},
"layer":[
{"data":{"name":"peaks"},"transform":[{"filter":"datum.p=='E3'"}],"mark":{"type":"rule","strokeWidth":3},
"encoding":{"x":{"field":"mz","type":"quantitative","scale":{"domain":[45,433],"nice":false,"zero":false},"axis":{"title":"m/z","values":[100,200,300,400],"tickCount":40,"labelOverlap":false,"titleFontSize":11,"titlePadding":2}},
"y":{"field":"v","type":"quantitative","scale":{"domain":[-280,275],"nice":false},"axis":{"title":"Intensity [counts] (10^3)","values":[-200,-100,0,100,200],"tickCount":40,"labelOverlap":false,"titleFontSize":9,"labelFontSize":9}},
"y2":{"datum":0},
"color":{"field":"t","type":"nominal","scale":{"domain":["Recorded","Reference"],"range":["#000000","#a52a2a"]},"legend":null}}},
{"data":{"values":[{}]},"mark":{"type":"rule","color":"#555","strokeWidth":0.8},"encoding":{"y":{"datum":0,"type":"quantitative"}}},
{"data":{"name":"leaders"},"transform":[{"filter":"datum.p=='E3'"}],"mark":{"type":"rule","strokeDash":[2,1.5],"strokeWidth":0.8,"color":"#000"},"encoding":{"x":{"field":"x","type":"quantitative"},"y":{"field":"y","type":"quantitative"},"x2":{"field":"x2"},"y2":{"field":"y2"}}},
{"data":{"name":"labels"},"transform":[{"filter":"datum.p=='E3'"}],"mark":{"type":"text","fontSize":7.5},"encoding":{"x":{"field":"x","type":"quantitative"},"y":{"field":"y","type":"quantitative"},"text":{"field":"s"}}},
{"data":{"name":"donors"},"transform":[{"filter":"datum.p=='E3'"}],"mark":{"type":"text","fontSize":11,"align":"right","baseline":"bottom","dy":-8},"encoding":{"x":{"datum":433},"y":{"datum":275},"text":{"field":"s"}}}
]},
{"width":200,"height":90,"title":{"text":"Vildagliptin","subtitle":"RT: 1.80","offset":-16},
"layer":[
{"data":{"name":"peaks"},"transform":[{"filter":"datum.p=='E4'"}],"mark":{"type":"rule","strokeWidth":3},
"encoding":{"x":{"field":"mz","type":"quantitative","scale":{"domain":[50,330],"nice":false,"zero":false},"axis":{"title":"m/z","values":[50,100,150,200,250,300],"tickCount":40,"labelOverlap":false,"titleFontSize":11,"titlePadding":2}},
"y":{"field":"v","type":"quantitative","scale":{"domain":[-480,460],"nice":false},"axis":{"title":null,"values":[-400,-200,0,200,400],"tickCount":40,"labelOverlap":false}},
"y2":{"datum":0},
"color":{"field":"t","type":"nominal","scale":{"domain":["Recorded","Reference"],"range":["#000000","#a52a2a"]},"legend":null}}},
{"data":{"values":[{}]},"mark":{"type":"rule","color":"#555","strokeWidth":0.8},"encoding":{"y":{"datum":0,"type":"quantitative"}}},
{"data":{"name":"leaders"},"transform":[{"filter":"datum.p=='E4'"}],"mark":{"type":"rule","strokeDash":[2,1.5],"strokeWidth":0.8,"color":"#000"},"encoding":{"x":{"field":"x","type":"quantitative"},"y":{"field":"y","type":"quantitative"},"x2":{"field":"x2"},"y2":{"field":"y2"}}},
{"data":{"name":"labels"},"transform":[{"filter":"datum.p=='E4'"}],"mark":{"type":"text","fontSize":8},"encoding":{"x":{"field":"x","type":"quantitative"},"y":{"field":"y","type":"quantitative"},"text":{"field":"s"}}},
{"data":{"name":"donors"},"transform":[{"filter":"datum.p=='E4'"}],"mark":{"type":"text","fontSize":11,"align":"right","baseline":"bottom","dy":-8},"encoding":{"x":{"datum":330},"y":{"datum":460},"text":{"field":"s"}}}
]}
]}
]}
],"spacing":0},
{"title":{"text":"F","fontSize":14,"fontWeight":"bold","anchor":"start","frame":"bounds","offset":2},
"spacing":6,
"hconcat":[
{"width":172,"height":114,"title":{"text":"Bisoprolol","subtitle":"RT: 4.75","dx":8,"offset":-10},
"layer":[
{"data":{"name":"peaks"},"transform":[{"filter":"datum.p=='F1'"}],"mark":{"type":"rule","strokeWidth":3},
"encoding":{"x":{"field":"mz","type":"quantitative","scale":{"domain":[50,350],"nice":false,"zero":false},"axis":{"title":"m/z","values":[50,100,150,200,250,300,350],"tickCount":40,"labelOverlap":false,"titleFontSize":11,"titlePadding":2}},
"y":{"field":"v","type":"quantitative","scale":{"domain":[-950,830],"nice":false},"axis":{"title":"Intensity [counts] (10^3)","values":[-500,0,500],"tickCount":40,"labelOverlap":false,"titleFontSize":10,"titlePadding":1}},
"y2":{"datum":0},
"color":{"field":"t","type":"nominal","scale":{"domain":["Recorded","Reference"],"range":["#000000","#a52a2a"]},"legend":null}}},
{"data":{"values":[{}]},"mark":{"type":"rule","color":"#aaa","strokeWidth":2},"encoding":{"y":{"datum":0,"type":"quantitative"}}},
{"data":{"name":"leaders"},"transform":[{"filter":"datum.p=='F1'"}],"mark":{"type":"rule","strokeDash":[2,1.5],"strokeWidth":0.8,"color":"#000"},"encoding":{"x":{"field":"x","type":"quantitative"},"y":{"field":"y","type":"quantitative"},"x2":{"field":"x2"},"y2":{"field":"y2"}}},
{"data":{"name":"labels"},"transform":[{"filter":"datum.p=='F1'"}],"mark":{"type":"text","fontSize":8},"encoding":{"x":{"field":"x","type":"quantitative"},"y":{"field":"y","type":"quantitative"},"text":{"field":"s"}}},
{"data":{"name":"donors"},"transform":[{"filter":"datum.p=='F1'"}],"mark":{"type":"text","fontSize":11,"align":"right","baseline":"bottom","dy":-2},"encoding":{"x":{"datum":350},"y":{"datum":830},"text":{"field":"s"}}}
]},
{"width":195,"height":114,"title":{"text":"Gabapentin","subtitle":"RT: 2.09","dx":4,"offset":-12},
"layer":[
{"data":{"name":"peaks"},"transform":[{"filter":"datum.p=='F2'"}],"mark":{"type":"rule","strokeWidth":3},
"encoding":{"x":{"field":"mz","type":"quantitative","scale":{"domain":[50,198],"nice":false,"zero":false},"axis":{"title":"m/z","values":[60,80,100,120,140,160,180],"tickCount":40,"labelOverlap":false,"titleFontSize":11,"titlePadding":2}},
"y":{"field":"v","type":"quantitative","scale":{"domain":[-3.05,3.05],"nice":false},"axis":{"title":null,"values":[-3,-2,-1,0,1,2,3],"format":"d","tickCount":40,"labelOverlap":false,"labelFontSize":9}},
"y2":{"datum":0},
"color":{"field":"t","type":"nominal","scale":{"domain":["Recorded","Reference"],"range":["#000000","#a52a2a"]},"legend":null}}},
{"data":{"values":[{}]},"mark":{"type":"rule","color":"#555","strokeWidth":0.8},"encoding":{"y":{"datum":0,"type":"quantitative"}}},
{"data":{"name":"leaders"},"transform":[{"filter":"datum.p=='F2'"}],"mark":{"type":"rule","strokeDash":[2,1.5],"strokeWidth":0.8,"color":"#000"},"encoding":{"x":{"field":"x","type":"quantitative"},"y":{"field":"y","type":"quantitative"},"x2":{"field":"x2"},"y2":{"field":"y2"}}},
{"data":{"name":"labels"},"transform":[{"filter":"datum.p=='F2'"}],"mark":{"type":"text","fontSize":8},"encoding":{"x":{"field":"x","type":"quantitative"},"y":{"field":"y","type":"quantitative"},"text":{"field":"s"}}},
{"data":{"name":"donors"},"transform":[{"filter":"datum.p=='F2'"}],"mark":{"type":"text","fontSize":11,"align":"right","baseline":"bottom","dy":-4},"encoding":{"x":{"datum":198},"y":{"datum":3.05},"text":{"field":"s"}}}
]},
{"width":178,"height":114,"title":{"text":"Tropicamide","subtitle":"RT: 2.95","dx":4},
"layer":[
{"data":{"name":"peaks"},"transform":[{"filter":"datum.p=='F3'"}],"mark":{"type":"rule","strokeWidth":3},
"encoding":{"x":{"field":"mz","type":"quantitative","scale":{"domain":[50,305],"nice":false,"zero":false},"axis":{"title":"m/z","values":[50,100,150,200,250,300],"tickCount":40,"labelOverlap":false,"titleFontSize":11,"titlePadding":2}},
"y":{"field":"v","type":"quantitative","scale":{"domain":[-440,450],"nice":false},"axis":{"title":null,"values":[-400,-300,-200,-100,0,100,200,300,400],"tickCount":40,"labelOverlap":false,"labelFontSize":9}},
"y2":{"datum":0},
"color":{"field":"t","type":"nominal","scale":{"domain":["Recorded","Reference"],"range":["#000000","#a52a2a"]},"legend":null}}},
{"data":{"values":[{}]},"mark":{"type":"rule","color":"#aaa","strokeWidth":2},"encoding":{"y":{"datum":0,"type":"quantitative"}}},
{"data":{"name":"leaders"},"transform":[{"filter":"datum.p=='F3'"}],"mark":{"type":"rule","strokeDash":[2,1.5],"strokeWidth":0.8,"color":"#000"},"encoding":{"x":{"field":"x","type":"quantitative"},"y":{"field":"y","type":"quantitative"},"x2":{"field":"x2"},"y2":{"field":"y2"}}},
{"data":{"name":"labels"},"transform":[{"filter":"datum.p=='F3'"}],"mark":{"type":"text","fontSize":8},"encoding":{"x":{"field":"x","type":"quantitative"},"y":{"field":"y","type":"quantitative"},"text":{"field":"s"}}}
]}
]}
]
}
